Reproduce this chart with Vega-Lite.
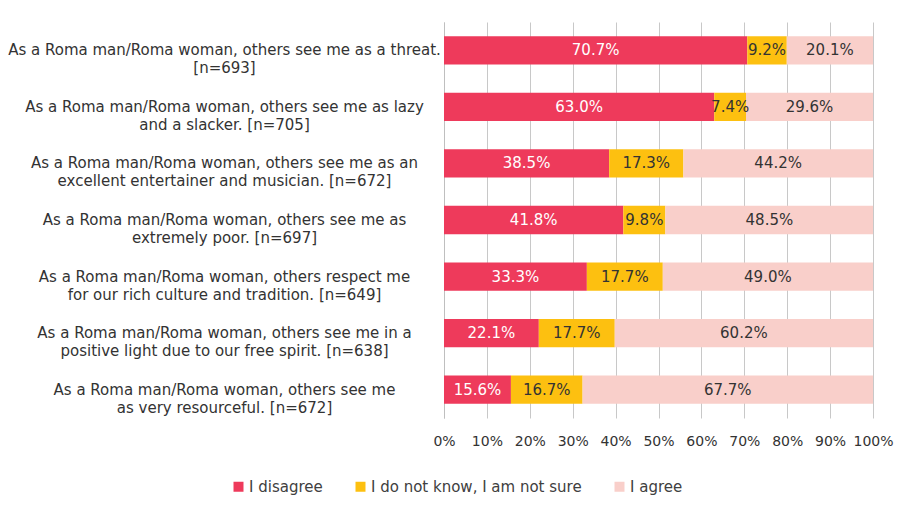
{
  "$schema": "https://vega.github.io/schema/vega-lite/v6.json",
  "width": 429,
  "height": 396,
  "autosize": {"type": "none"},
  "padding": {"left": 444, "top": 22, "right": 30, "bottom": 95},
  "config": {
    "font": "DejaVu Sans",
    "view": {"stroke": null},
    "axis": {"labelColor": "#333333", "labelFont": "DejaVu Sans"}
  },
  "data": {
    "values": [
      {"item": 1, "label": "As a Roma man/Roma woman, others see me as a threat.|[n=693]", "response": "I disagree", "order": 1, "value": 70.7},
      {"item": 1, "label": "As a Roma man/Roma woman, others see me as a threat.|[n=693]", "response": "I do not know, I am not sure", "order": 2, "value": 9.2},
      {"item": 1, "label": "As a Roma man/Roma woman, others see me as a threat.|[n=693]", "response": "I agree", "order": 3, "value": 20.1},
      {"item": 2, "label": "As a Roma man/Roma woman, others see me as lazy|and a slacker. [n=705]", "response": "I disagree", "order": 1, "value": 63.0},
      {"item": 2, "label": "As a Roma man/Roma woman, others see me as lazy|and a slacker. [n=705]", "response": "I do not know, I am not sure", "order": 2, "value": 7.4},
      {"item": 2, "label": "As a Roma man/Roma woman, others see me as lazy|and a slacker. [n=705]", "response": "I agree", "order": 3, "value": 29.6},
      {"item": 3, "label": "As a Roma man/Roma woman, others see me as an|excellent entertainer and musician. [n=672]", "response": "I disagree", "order": 1, "value": 38.5},
      {"item": 3, "label": "As a Roma man/Roma woman, others see me as an|excellent entertainer and musician. [n=672]", "response": "I do not know, I am not sure", "order": 2, "value": 17.3},
      {"item": 3, "label": "As a Roma man/Roma woman, others see me as an|excellent entertainer and musician. [n=672]", "response": "I agree", "order": 3, "value": 44.2},
      {"item": 4, "label": "As a Roma man/Roma woman, others see me as|extremely poor. [n=697]", "response": "I disagree", "order": 1, "value": 41.8},
      {"item": 4, "label": "As a Roma man/Roma woman, others see me as|extremely poor. [n=697]", "response": "I do not know, I am not sure", "order": 2, "value": 9.8},
      {"item": 4, "label": "As a Roma man/Roma woman, others see me as|extremely poor. [n=697]", "response": "I agree", "order": 3, "value": 48.5},
      {"item": 5, "label": "As a Roma man/Roma woman, others respect me|for our rich culture and tradition. [n=649]", "response": "I disagree", "order": 1, "value": 33.3},
      {"item": 5, "label": "As a Roma man/Roma woman, others respect me|for our rich culture and tradition. [n=649]", "response": "I do not know, I am not sure", "order": 2, "value": 17.7},
      {"item": 5, "label": "As a Roma man/Roma woman, others respect me|for our rich culture and tradition. [n=649]", "response": "I agree", "order": 3, "value": 49.0},
      {"item": 6, "label": "As a Roma man/Roma woman, others see me in a|positive light due to our free spirit. [n=638]", "response": "I disagree", "order": 1, "value": 22.1},
      {"item": 6, "label": "As a Roma man/Roma woman, others see me in a|positive light due to our free spirit. [n=638]", "response": "I do not know, I am not sure", "order": 2, "value": 17.7},
      {"item": 6, "label": "As a Roma man/Roma woman, others see me in a|positive light due to our free spirit. [n=638]", "response": "I agree", "order": 3, "value": 60.2},
      {"item": 7, "label": "As a Roma man/Roma woman, others see me|as very resourceful. [n=672]", "response": "I disagree", "order": 1, "value": 15.6},
      {"item": 7, "label": "As a Roma man/Roma woman, others see me|as very resourceful. [n=672]", "response": "I do not know, I am not sure", "order": 2, "value": 16.7},
      {"item": 7, "label": "As a Roma man/Roma woman, others see me|as very resourceful. [n=672]", "response": "I agree", "order": 3, "value": 67.7}
    ]
  },
  "transform": [
    {"stack": "value", "groupby": ["label"], "sort": [{"field": "order", "order": "ascending"}], "as": ["v0", "v1"]},
    {"calculate": "(datum.v0 + datum.v1) / 2", "as": "mid"}
  ],
  "encoding": {
    "y": {
      "field": "label",
      "type": "nominal",
      "sort": {"field": "item", "op": "min", "order": "ascending"},
      "scale": {"paddingInner": 0.5, "paddingOuter": 0.25},
      "axis": {
        "title": null,
        "ticks": false,
        "domain": true,
        "domainColor": "#bfbfbf",
        "labelAlign": "center",
        "labelBaseline": "middle",
        "labelPadding": 220,
        "labelLimit": 600,
        "labelFontSize": 15,
        "labelLineHeight": 18,
        "labelExpr": "split(datum.label, '|')"
      }
    }
  },
  "layer": [
    {
      "mark": {"type": "bar", "clip": true},
      "encoding": {
        "x": {
          "field": "v0",
          "type": "quantitative",
          "scale": {"domain": [0, 100], "nice": false},
          "axis": {
            "title": null,
            "values": [0, 10, 20, 30, 40, 50, 60, 70, 80, 90, 100],
            "labelExpr": "datum.value + '%'",
            "labelOverlap": false,
            "labelFlush": false,
            "domain": false,
            "ticks": false,
            "grid": true,
            "gridColor": "#c8c8c8",
            "gridWidth": 1,
            "labelPadding": 16,
            "labelFontSize": 14
          }
        },
        "x2": {"field": "v1"},
        "color": {
          "field": "response",
          "type": "nominal",
          "sort": ["I disagree", "I do not know, I am not sure", "I agree"],
          "scale": {
            "domain": ["I disagree", "I do not know, I am not sure", "I agree"],
            "range": ["#EE3A5B", "#FDC010", "#F9CFCA"]
          },
          "legend": {
            "title": null,
            "orient": "none",
            "legendX": -213,
            "legendY": 457,
            "direction": "horizontal",
            "symbolType": "square",
            "symbolSize": 100,
            "symbolStrokeWidth": 0,
            "labelFontSize": 15,
            "labelColor": "#404040",
            "labelOffset": 3,
            "columnPadding": 30,
            "padding": 0,
            "labelLimit": 400
          }
        }
      }
    },
    {
      "mark": {"type": "text", "fontSize": 15, "baseline": "middle", "align": "center", "text": {"expr": "format(datum.value, '.1f') + '%'"}},
      "encoding": {
        "x": {"field": "mid", "type": "quantitative"},
        "color": {
          "condition": {"test": "datum.order == 1", "value": "#ffffff"},
          "value": "#333333"
        }
      }
    }
  ]
}
